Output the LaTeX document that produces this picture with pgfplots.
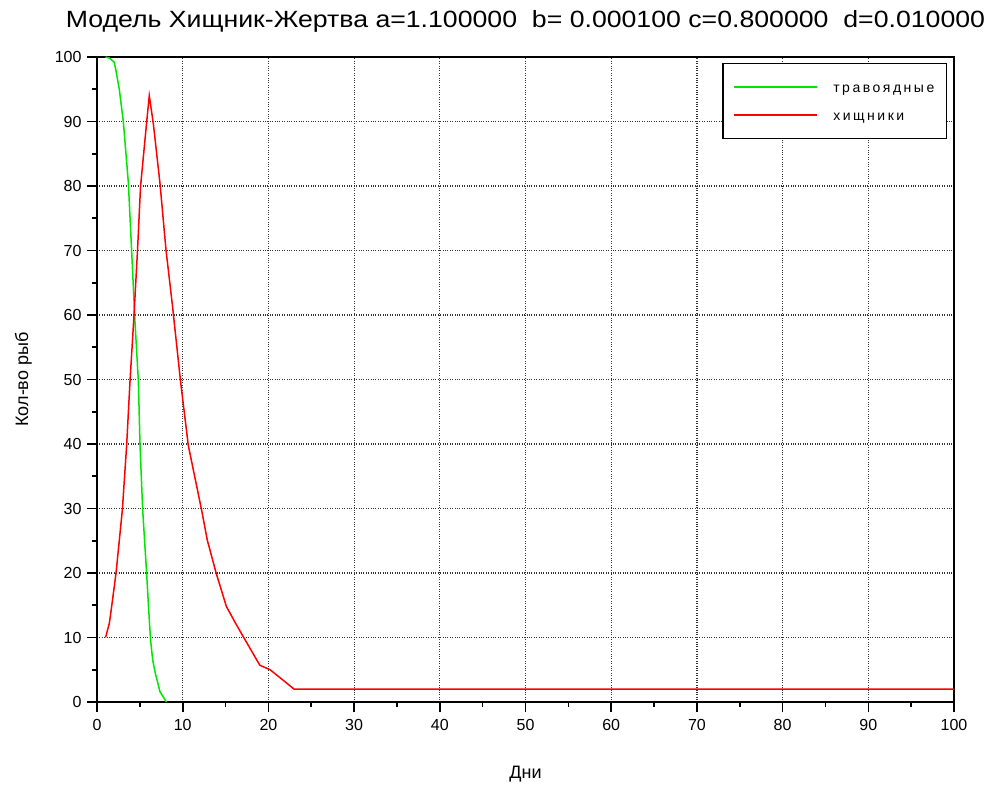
\documentclass[border=0pt]{standalone}
\usepackage{fontspec}
\setmainfont{Liberation Sans}
\newfontfamily\legfont[LetterSpace=18]{Liberation Sans}
\usepackage{pgfplots}
\pgfplotsset{compat=1.18}

\definecolor{preygreen}{RGB}{0,230,0}
\definecolor{predred}{RGB}{255,0,0}

% Prey (herbivores) population over time
\pgfplotstableread{
t   n
1    100
1.5  99.8
2    99.2
2.2  98
2.6  95
3.07 90
3.66 80.5
4.04 70
4.43 59
4.83 49.7
5.02 39.8
5.33 29.8
5.6  24
5.79 20
6.0  15
6.25 9.6
6.5  6.5
6.8  4.5
7.35 1.6
8.1  0
}\prey

% Predator population over time
\pgfplotstableread{
t   n
1    10
1.44 12.2
1.71 14.8
2.22 20
2.6  25
2.96 29.8
3.46 39.8
3.85 49.7
4.32 60
4.73 70.1
5.08 79.9
5.78 89.7
6.1  94
6.57 89.7
7.35 80.4
8.05 70.1
8.8  61.5
9.75 49.7
10.65 39.8
12.2 29.8
12.87 25.1
13.9 20
15.1 14.8
16.3 11.9
17.3 9.6
19   5.7
20.2 5
21.7 3.4
23   2
100  2
}\predator

\begin{document}
\begin{tikzpicture}
\begin{axis}[
  scale only axis,
  width=857pt, height=645pt,
  xmin=0, xmax=100, ymin=0, ymax=100,
  xtick={0,10,...,100}, ytick={0,10,...,100},
  minor x tick num=1, minor y tick num=1,
  tick align=outside,
  xtick pos=left, ytick pos=left,
  major tick length=10pt, minor tick length=5pt,
  every tick/.style={black, line width=1.6pt},
  axis line style={black, line width=1.6pt},
  grid=major,
  major grid style={black!80, dotted, line width=1.2pt},
  tick label style={font=\fontsize{16}{18}\selectfont},
  /pgf/number format/assume math mode=true,
  xticklabel style={yshift=-4pt},
  yticklabel style={xshift=-2pt},
  xlabel={Дни},
  ylabel={Кол-во рыб},
  label style={font=\fontsize{18}{20}\selectfont},
  xlabel style={yshift=-28pt},
  ylabel style={yshift=16pt},
  legend style={
    at={(rel axis cs:0.992,0.991)}, anchor=north east,
    draw=black, line width=1.6pt,
    font=\legfont\fontsize{14}{16}\selectfont,
    inner xsep=10pt, inner ysep=13pt,
    row sep=7pt,
    nodes={text height=14pt, text depth=3pt},
  },
  legend cell align=left,
  legend image code/.code={%
    \draw[#1, line width=1.3pt] (0pt,0pt) -- (83pt,0pt);},
]
\addplot[preygreen, line width=1.5pt] table[x=t, y=n] {\prey};
\addlegendentry{\hspace*{14pt}травоядные\hspace{12pt}}
\addplot[predred, line width=1.5pt] table[x=t, y=n] {\predator};
\addlegendentry{\hspace*{14pt}хищники}
\coordinate (ll) at (rel axis cs:0,0);
\coordinate (ur) at (rel axis cs:1,1);
\coordinate (tc) at (rel axis cs:0.5,1);
\end{axis}
\node[anchor=base, font=\fontsize{23.5}{26}\selectfont, inner sep=0pt]
  at ([yshift=29pt]tc)
  {\scalebox{1.135}[1]{Модель Хищник-Жертва a=1.100000\ \ b= 0.000100 c=0.800000\ \ d=0.010000}};
\pgfresetboundingbox
\useasboundingbox ([shift={(-97pt,-85pt)}]ll) rectangle ([shift={(38pt,57pt)}]ur);
\end{tikzpicture}
\end{document}
